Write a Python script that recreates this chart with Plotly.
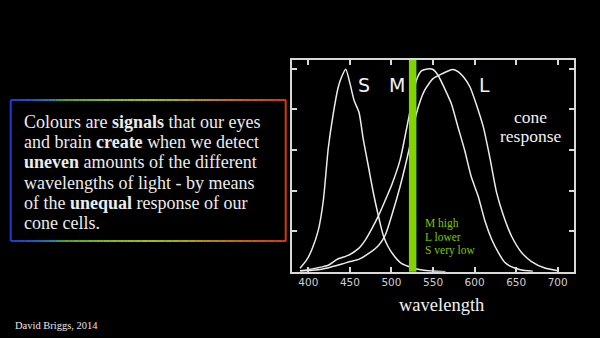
import plotly.graph_objects as go

# ---- data ----
S_nm = [390, 398, 404, 412, 418, 424, 430, 436, 440, 445, 450, 455, 461, 466, 472, 478, 484, 490, 496, 504, 512, 524, 535, 548, 565]
S_val = [0.017, 0.058, 0.107, 0.205, 0.35, 0.61, 0.78, 0.911, 0.96, 0.998, 0.93, 0.845, 0.785, 0.655, 0.525, 0.393, 0.28, 0.181, 0.123, 0.074, 0.041, 0.021, 0.01, 0.003, 0.0]

M_nm = [390, 400, 410, 418, 424.5, 434.5, 448.6, 460.6, 468.5, 476.6, 484.7, 492.6, 500.5, 510.3, 521, 530, 536, 543.5, 550, 556, 564, 572, 580, 588, 596, 604.5, 612.5, 620.5, 628.5, 636.5, 644, 655, 670]
M_val = [0.005, 0.01, 0.018, 0.025, 0.033, 0.061, 0.082, 0.115, 0.156, 0.214, 0.279, 0.353, 0.43, 0.55, 0.764, 0.944, 0.99, 1.0, 0.997, 0.969, 0.903, 0.829, 0.714, 0.6, 0.468, 0.37, 0.25, 0.16, 0.095, 0.045, 0.025, 0.01, 0.002]

L_nm = [390, 405, 416, 428, 440.5, 450, 460.6, 472.6, 484.7, 492.6, 500.5, 510.3, 521, 530, 540, 550, 560, 568, 574.5, 580.5, 586.5, 594.5, 602.5, 610.5, 618.5, 626.5, 634.5, 644.5, 656.5, 668.5, 684.5, 700]
L_val = [0.003, 0.007, 0.012, 0.024, 0.038, 0.05, 0.061, 0.09, 0.131, 0.181, 0.28, 0.419, 0.6, 0.78, 0.895, 0.952, 0.974, 0.99, 0.997, 0.985, 0.961, 0.911, 0.82, 0.714, 0.56, 0.39, 0.28, 0.175, 0.095, 0.05, 0.018, 0.005]

band_nm = [521, 530]
x_ticks = [400, 450, 500, 550, 600, 650, 700]
y_ticks = [0.2, 0.4, 0.6, 0.8, 1.0]

main_lines = ["Colours are <b>signals</b> that our eyes",
              "and brain <b>create</b> when we detect",
              "<b>uneven</b> amounts of the different",
              "wavelengths of light - by means",
              "of the <b>unequal</b> response of our",
              "cone cells."]
green_lines = ["M high", "L lower", "S very low"]
cone_labels = ["S", "M", "L"]

W, H = 600, 338
def px(x): return x / W
def py(y): return 1 - y / H

fig = go.Figure()
for xs, ys in [(S_nm, S_val), (M_nm, M_val), (L_nm, L_val)]:
    fig.add_trace(go.Scatter(x=xs, y=ys, mode="lines",
                             line=dict(color="#ececec", width=1.5, shape="spline", smoothing=0.6),
                             hoverinfo="skip", showlegend=False))

axis_common = dict(showline=True, linecolor="#d8d8d8", linewidth=2, mirror="ticks",
                   ticks="inside", ticklen=5, tickwidth=1.5, tickcolor="#d8d8d8",
                   showgrid=False, zeroline=False)

fig.update_layout(
    width=W, height=H, autosize=False,
    margin=dict(l=0, r=0, t=0, b=0),
    paper_bgcolor="black", plot_bgcolor="black",
    xaxis=dict(domain=[292.3 / W, 574 / W], range=[380.7, 719.6], tickvals=x_ticks,
               tickfont=dict(family="DejaVu Sans", size=10.5, color="#cfcfcf"), **axis_common),
    yaxis=dict(domain=[py(271.7), py(60)], range=[0, 1.044], tickvals=y_ticks,
               showticklabels=False, **axis_common),
)

# green band
fig.add_shape(type="rect", xref="x", yref="y domain", x0=band_nm[0], x1=band_nm[1],
              y0=0, y1=1, fillcolor="#80d400", line=dict(width=0), layer="above")

# rainbow framed box (styling)
stops = [(10.7, (31, 60, 208)), (35, (31, 90, 190)), (55, (32, 140, 160)), (63, (80, 160, 48)),
         (100, (128, 184, 32)), (150, (160, 192, 16)), (190, (176, 160, 16)),
         (230, (192, 112, 16)), (285.7, (208, 58, 16))]
def col(x):
    for (x0, c0), (x1, c1) in zip(stops[:-1], stops[1:]):
        if x <= x1:
            t = max(0, (x - x0) / (x1 - x0))
            c = [round(a + (b - a) * t) for a, b in zip(c0, c1)]
            return "rgb(%d,%d,%d)" % tuple(c)
    return "rgb(%d,%d,%d)" % stops[-1][1]

bx0, bx1, by0, by1 = 10.7, 285.7, 100, 241
n = 80
for i in range(n):
    xa = bx0 + (bx1 - bx0) * i / n
    xb = bx0 + (bx1 - bx0) * (i + 1) / n
    c = col((xa + xb) / 2)
    for yy in (by0, by1):
        fig.add_shape(type="line", xref="paper", yref="paper", x0=px(xa), x1=px(xb + 0.3),
                      y0=py(yy), y1=py(yy), line=dict(color=c, width=2))
fig.add_shape(type="line", xref="paper", yref="paper", x0=px(bx0), x1=px(bx0),
              y0=py(by0), y1=py(by1), line=dict(color=col(bx0), width=2))
fig.add_shape(type="line", xref="paper", yref="paper", x0=px(bx1), x1=px(bx1),
              y0=py(by0), y1=py(by1), line=dict(color=col(bx1), width=2))

serif = "Liberation Serif"
for i, t in enumerate(main_lines):
    fig.add_annotation(xref="paper", yref="paper", x=px(22), y=py(122 + 20.2 * i),
                       xanchor="left", yanchor="middle", text=t, align="left", showarrow=False,
                       font=dict(family=serif, size=18, color="#ececec"))

for lab, x in zip(cone_labels, [364, 396.7, 484]):
    fig.add_annotation(xref="paper", yref="paper", x=px(x), y=py(85), text=lab, showarrow=False,
                       xanchor="center", yanchor="middle",
                       font=dict(family="DejaVu Sans", size=19, color="#f2f2f2"))

for t, y in [("cone", 117), ("response", 136)]:
    fig.add_annotation(xref="paper", yref="paper", x=px(530.5), y=py(y), text=t, showarrow=False,
                       xanchor="center", yanchor="middle",
                       font=dict(family=serif, size=17.5, color="#f2f2f2"))

for t, y in zip(green_lines, [223.3, 236.7, 250]):
    fig.add_annotation(xref="paper", yref="paper", x=px(423), y=py(y), text=t, showarrow=False,
                       xanchor="left", yanchor="middle",
                       font=dict(family=serif, size=11.5, color="#7cc400"))

fig.add_annotation(xref="paper", yref="paper", x=px(441), y=py(305), text="wavelength", showarrow=False,
                   xanchor="center", yanchor="middle",
                   font=dict(family=serif, size=18.5, color="#f2f2f2"))

fig.add_annotation(xref="paper", yref="paper", x=px(13), y=py(325), text="David Briggs, 2014",
                   showarrow=False, xanchor="left", yanchor="middle",
                   font=dict(family=serif, size=10.5, color="#e8e8e8"))

fig.write_html("out.html")
